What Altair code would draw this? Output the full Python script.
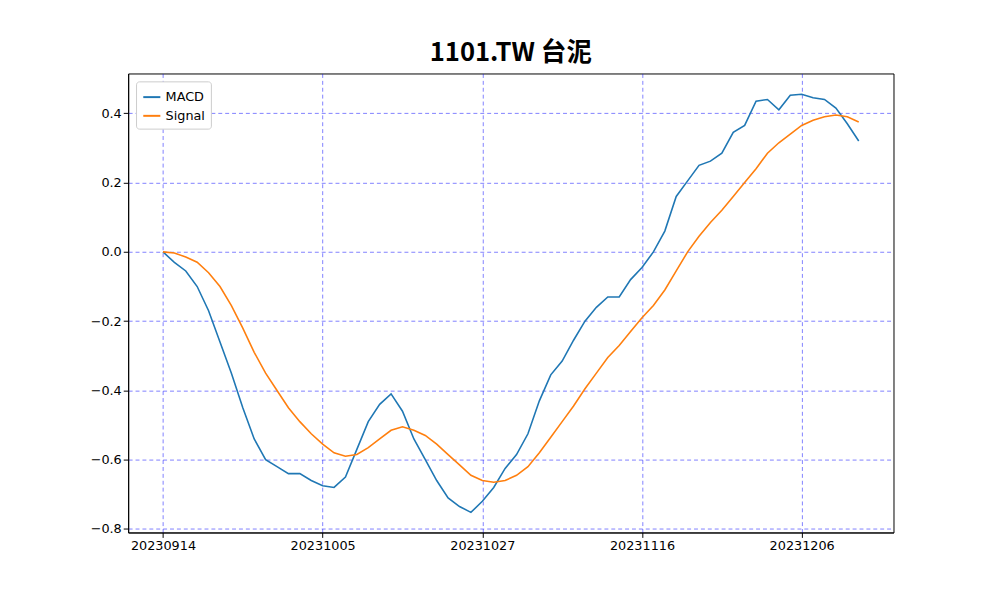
import altair as alt
import pandas as pd

tick_idx = [0, 14, 28, 42, 56]
tick_labels = ["20230914", "20231005", "20231027", "20231116", "20231206"]

macd = [0, -0.03, -0.055, -0.10, -0.17, -0.26, -0.35, -0.45, -0.54, -0.60,
        -0.62, -0.64, -0.64, -0.66, -0.675, -0.68, -0.65, -0.57, -0.49, -0.44,
        -0.41, -0.46, -0.54, -0.60, -0.66, -0.71, -0.735, -0.752, -0.72, -0.68,
        -0.625, -0.585, -0.525, -0.43, -0.355, -0.315, -0.255, -0.20, -0.16, -0.13,
        -0.13, -0.08, -0.045, 0.0, 0.06, 0.16, 0.205, 0.25, 0.262, 0.285,
        0.345, 0.365, 0.435, 0.44, 0.41, 0.452, 0.455, 0.445, 0.44, 0.415,
        0.37, 0.32]
signal = [0, -0.003, -0.015, -0.03, -0.06, -0.10, -0.155, -0.22, -0.29, -0.35,
          -0.40, -0.45, -0.49, -0.525, -0.555, -0.58, -0.59, -0.585, -0.565, -0.54,
          -0.515, -0.505, -0.515, -0.53, -0.555, -0.585, -0.615, -0.645, -0.66, -0.665,
          -0.66, -0.645, -0.62, -0.58, -0.535, -0.49, -0.445, -0.395, -0.35, -0.305,
          -0.27, -0.23, -0.19, -0.155, -0.11, -0.055, 0.0, 0.045, 0.085, 0.12,
          0.16, 0.2, 0.24, 0.285, 0.315, 0.34, 0.365, 0.38, 0.39, 0.395,
          0.39, 0.375]

rows = []
for i, v in enumerate(macd):
    rows.append({"i": i, "value": v, "series": "MACD"})
for i, v in enumerate(signal):
    rows.append({"i": i, "value": v, "series": "Signal"})
df = pd.DataFrame(rows)

label_map = "{" + ",".join(f"'{k}':'{v}'" for k, v in zip(tick_idx, tick_labels)) + "}"

chart = alt.Chart(df).mark_line(strokeWidth=1.6).encode(
    alt.X("i:Q", scale=alt.Scale(domain=[-3.05, 64.05], nice=False, zero=False),
          axis=alt.Axis(values=tick_idx, labelExpr=f"{label_map}[datum.value]", title=None,
                        gridColor="#0000ff", gridOpacity=0.5, gridDash=[4, 3],
                        tickColor="black", domainColor="black", labelColor="black",
                        labelFontSize=13, labelFont="DejaVu Sans")),
    alt.Y("value:Q", scale=alt.Scale(domain=[-0.81, 0.515], nice=False, zero=False),
          axis=alt.Axis(values=[-0.8, -0.6, -0.4, -0.2, 0.0, 0.2, 0.4], format=".1f", title=None,
                        gridColor="#0000ff", gridOpacity=0.5, gridDash=[4, 3],
                        tickColor="black", domainColor="black", labelColor="black",
                        labelFontSize=13, labelFont="DejaVu Sans")),
    alt.Color("series:N", title=None,
              scale=alt.Scale(domain=["MACD", "Signal"], range=["#1f77b4", "#ff7f0e"]),
              legend=alt.Legend(orient="top-left", symbolType="stroke", symbolStrokeWidth=2,
                                symbolSize=300, labelFontSize=13, labelFont="DejaVu Sans",
                                strokeColor="#cccccc", padding=6, fillColor="white",
                                offset=8, cornerRadius=3)),
).properties(
    width=777, height=466,
    title=alt.TitleParams("1101.TW 台泥", font="Noto Sans CJK TC", fontSize=26,
                          fontWeight="bold", offset=8, color="black"),
    autosize=alt.AutoSizeParams(type="none"),
    padding={"left": 122, "top": 62, "right": 100, "bottom": 60},
).configure_view(stroke="black")

chart.save("out.html", embed_options={"renderer": "svg", "actions": False})
